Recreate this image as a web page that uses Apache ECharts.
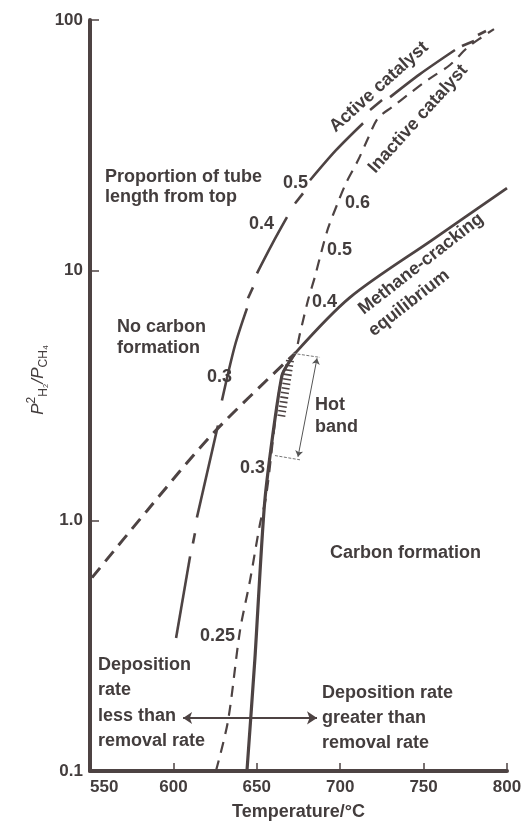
<!DOCTYPE html>
<html><head><meta charset="utf-8">
<script src="https://cdn.jsdelivr.net/npm/echarts@6/dist/echarts.min.js"></script>
<style>html,body{margin:0;padding:0;background:#fff}#c{width:525px;height:829px}</style>
</head><body><div id="c"></div>
<script>
// ---- data ----
const xTicks = [550, 600, 650, 700, 750, 800];
const yTicks = [0.1, 1, 10, 100];
const yTickLabels = ['0.1', '1.0', '10', '100'];

// methane-cracking equilibrium (dashed below the hot band, solid above)
const equilibriumDashed = [[551.2, 0.592], [584.2, 1.096], [623.7, 2.23], [672.9, 4.66]];
const equilibriumSolid = [[672.9, 4.66], [705.9, 7.8], [755.7, 13.3], [800, 21.3]];

// active catalyst: pieces of the broken line
const activeCatalystPieces = [
  [[601.6, 0.34], [610.0, 0.72]],
  [[611.7, 0.81], [612.9, 0.89]],
  [[614.1, 1.03], [626.7, 2.40]],
  [[629.1, 3.02], [636.9, 5.01], [644.1, 7.05]],
  [[644.7, 7.73], [647.7, 8.55]],
  [[650.1, 9.73], [659.1, 12.7], [668.1, 16.3]],
  [[672.9, 18.5], [677.7, 20.3]],
  [[681.9, 22.9], [697.5, 30.2], [713.7, 38.7]],
  [[717.9, 43.7], [725.1, 47.9]],
  [[729.9, 49.2], [747.8, 60.8], [768.8, 75.9]],
  [[773.0, 78.7], [780.2, 82.4]],
  [[782.6, 87.1], [787.4, 90.4]]
];

// inactive catalyst (dashed)
const inactiveCatalyst = [
  [625.5, 0.1], [632.7, 0.158], [639.9, 0.363], [645.9, 0.575], [651.9, 0.97], [655.5, 1.24],
  [665.1, 3.80], [672.9, 4.66], [675.9, 5.6], [680.7, 7.59], [684.9, 9.46], [688.5, 11.7],
  [692.7, 14.7], [698.7, 18.7], [703.5, 22.3], [710.7, 27.5], [716.7, 33.7], [722.7, 40.6],
  [731.1, 44.9], [741.2, 50.6], [753.2, 58.1], [765.8, 66.1], [776.0, 77.3], [785.0, 85.5], [792.2, 92.0]
];

// actual tube profile (thick solid line)
const tubeProfile = [[644.1, 0.1], [648.9, 0.283], [654.9, 1.22], [665.1, 3.80], [672.9, 4.66]];
const hotBandHatch = [[669.9, 4.37], [664.5, 2.56]];
const hotBandTopTick = [[671.7, 4.66], [687.9, 4.49]];
const hotBandBottomTick = [[660.9, 1.82], [675.9, 1.75]];
const hotBandArrow = [[686.1, 4.45], [674.7, 1.80]];
const depositionArrow = [[605.8, 0.163], [686.1, 0.163]];

// ---- chart ----
const INK = '#4d4343';
const TXT = '#433d3d';
const FONT = '"Liberation Sans", Arial, sans-serif';
const LBL = 'bold 18px ' + FONT;
const chart = echarts.init(document.getElementById('c'), null, {renderer: 'canvas'});

function T(text, x, y) {
  return {type: 'text', x: x, y: y, z: 50,
    style: {text: text, fill: TXT, font: LBL, align: 'left', verticalAlign: 'middle'}};
}
function R(text, x, y, angle) {
  return {type: 'text', x: x, y: y, rotation: angle * Math.PI / 180, z: 50,
    style: {text: text, fill: TXT, font: LBL, align: 'center', verticalAlign: 'middle'}};
}

const series = [];
series.push({type: 'line', data: equilibriumDashed, smooth: 0.3, symbol: 'none',
  lineStyle: {color: INK, width: 3, type: [13, 8]}, z: 3});
series.push({type: 'line', data: equilibriumSolid, smooth: 0.3, symbol: 'none',
  lineStyle: {color: INK, width: 2.8}, z: 3});
activeCatalystPieces.forEach(p => series.push({type: 'line', data: p, smooth: 0.3, symbol: 'none',
  lineStyle: {color: INK, width: 2.6}, z: 3}));
series.push({type: 'line', data: inactiveCatalyst, smooth: 0.3, symbol: 'none',
  lineStyle: {color: INK, width: 2.2, type: [11, 8]}, z: 2});
series.push({type: 'line', data: tubeProfile, smooth: 0.2, symbol: 'none',
  lineStyle: {color: INK, width: 3.2}, z: 4});
series.push({type: 'line', data: hotBandHatch, symbol: 'none',
  lineStyle: {color: INK, width: 8, type: [1.6, 3]}, z: 4});
[hotBandTopTick, hotBandBottomTick].forEach(p => series.push({type: 'line', data: p, symbol: 'none',
  lineStyle: {color: '#777', width: 1, type: [3, 1.5]}, z: 4}));
series.push({type: 'lines', coordinateSystem: 'cartesian2d', symbol: ['arrow', 'arrow'], symbolSize: [6, 6],
  data: [{coords: hotBandArrow}], lineStyle: {color: '#555', width: 1, opacity: 1}, z: 5});
series.push({type: 'lines', coordinateSystem: 'cartesian2d', symbol: ['arrow', 'arrow'], symbolSize: [9, 10],
  data: [{coords: depositionArrow}], lineStyle: {color: INK, width: 2.2, opacity: 1}, z: 5});

const graphics = [
  T('Proportion of tube', 105, 177), T('length from top', 105, 197),
  T('0.5', 283, 183), T('0.4', 249, 224), T('0.3', 207, 377),
  T('No carbon', 117, 327), T('formation', 117, 348),
  T('0.6', 345, 203), T('0.5', 327, 250), T('0.4', 312, 302),
  T('0.3', 240, 468), T('0.25', 200, 636),
  T('Hot', 315, 405), T('band', 315, 427),
  T('Carbon formation', 330, 553),
  T('Deposition', 98, 665), T('rate', 98, 690), T('less than', 98, 716), T('removal rate', 98, 741),
  T('Deposition rate', 322, 693), T('greater than', 322, 718), T('removal rate', 322, 743),
  R('Methane-cracking', 421, 264, 38),
  R('equilibrium', 409, 303, 38),
  R('Active catalyst', 379, 87, 42),
  R('Inactive catalyst', 418, 119, 48),
  {type: 'text', x: 38, y: 380, rotation: Math.PI / 2, z: 50,
   style: {text: '{p|P}{sup|2}{sub|H₂}{p|/P}{sub|CH₄}', align: 'center', verticalAlign: 'middle',
     rich: {
       p: {fontSize: 17, fontStyle: 'italic', fontFamily: FONT, fill: TXT, lineHeight: 24},
       sup: {fontSize: 12, fontFamily: FONT, fill: TXT, lineHeight: 14, verticalAlign: 'top'},
       sub: {fontSize: 12, fontFamily: FONT, fill: TXT, lineHeight: 14, verticalAlign: 'bottom'}
     }}}
];

chart.setOption({
  animation: false,
  backgroundColor: '#fff',
  grid: {left: 90, right: 18, top: 20, bottom: 58, containLabel: false, outerBoundsMode: 'none'},
  xAxis: {
    type: 'value', min: xTicks[0], max: xTicks[xTicks.length - 1], interval: 50,
    name: 'Temperature/°C', nameLocation: 'middle', nameGap: 32,
    nameTextStyle: {fontSize: 18, fontWeight: 'bold', fontFamily: FONT, color: TXT},
    axisLine: {show: true, lineStyle: {color: INK, width: 4}},
    axisTick: {show: true, inside: true, length: 8, lineStyle: {color: INK, width: 1.5}},
    axisLabel: {fontSize: 17, fontWeight: 'bold', fontFamily: FONT, color: TXT, margin: 8, alignMinLabel: 'left'},
    splitLine: {show: false}
  },
  yAxis: {
    type: 'log', logBase: 10, min: yTicks[0], max: yTicks[yTicks.length - 1],
    axisLine: {show: true, lineStyle: {color: INK, width: 4}},
    axisTick: {show: true, inside: true, length: 9, lineStyle: {color: INK, width: 1.5}},
    axisLabel: {fontSize: 17, fontWeight: 'bold', fontFamily: FONT, color: TXT, margin: 7,
      formatter: v => { const i = yTicks.findIndex(t => Math.abs(Math.log10(t) - Math.log10(v)) < 1e-6); return i >= 0 ? yTickLabels[i] : ''; }},
    splitLine: {show: false}, minorTick: {show: false}
  },
  series: series,
  graphic: graphics
});
</script></body></html>
